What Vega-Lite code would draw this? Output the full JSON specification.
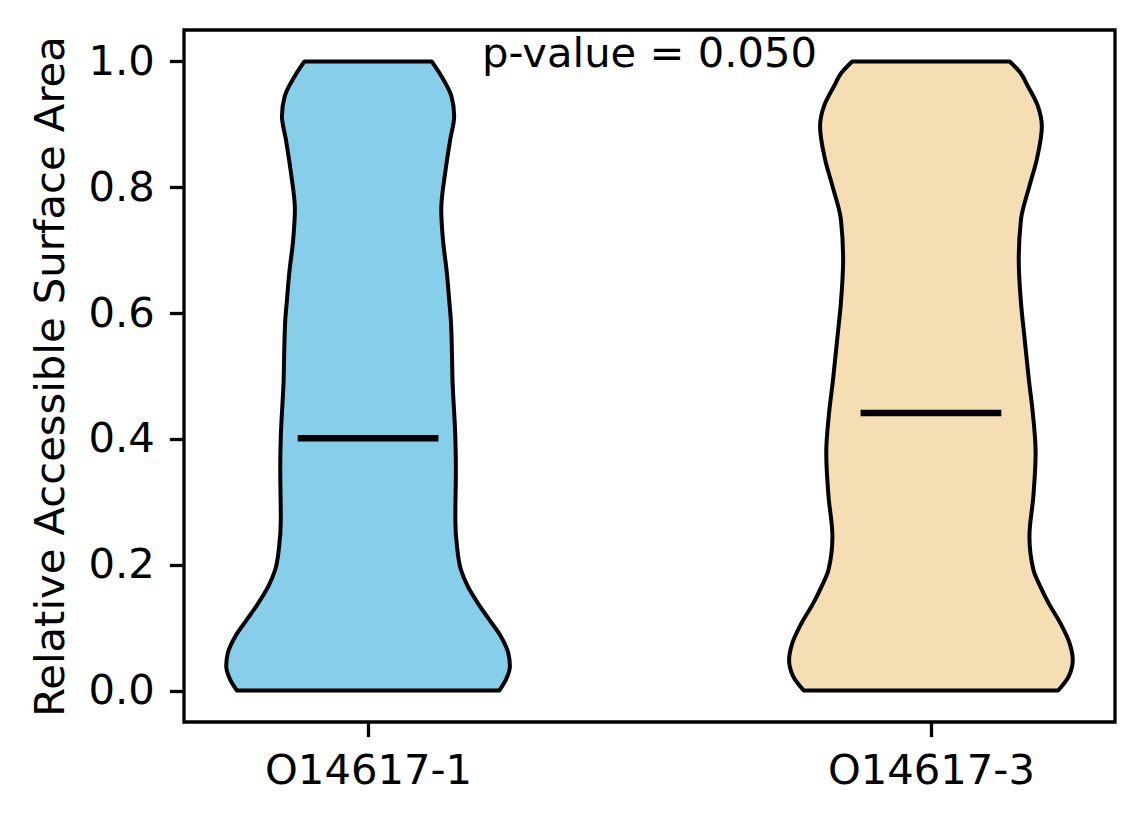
{
  "$schema": "https://vega.github.io/schema/vega-lite/v6.json",
  "width": 931,
  "height": 692,
  "autosize": {"type": "none"},
  "padding": {"left": 184, "top": 30, "right": 29, "bottom": 102},
  "background": "white",
  "config": {
    "font": "DejaVu Sans",
    "view": {"stroke": "black", "strokeWidth": 3.3},
    "axis": {
      "grid": false,
      "domain": false,
      "tickColor": "black",
      "tickWidth": 3.3,
      "tickSize": 14.6,
      "labelColor": "black",
      "labelFontSize": 41.7,
      "labelLimit": 0,
      "labelFont": "DejaVu Sans",
      "titleFont": "DejaVu Sans",
      "titleFontSize": 41.7,
      "titleFontWeight": "normal",
      "titleColor": "black"
    }
  },
  "datasets": {
    "violins": [
      {"g": "O14617-1", "y": 1.0, "lo": 0.887, "hi": 1.113},
      {"g": "O14617-1", "y": 0.977, "lo": 0.870, "hi": 1.130},
      {"g": "O14617-1", "y": 0.945, "lo": 0.852, "hi": 1.148},
      {"g": "O14617-1", "y": 0.913, "lo": 0.847, "hi": 1.153},
      {"g": "O14617-1", "y": 0.876, "lo": 0.854, "hi": 1.146},
      {"g": "O14617-1", "y": 0.823, "lo": 0.863, "hi": 1.137},
      {"g": "O14617-1", "y": 0.765, "lo": 0.870, "hi": 1.130},
      {"g": "O14617-1", "y": 0.717, "lo": 0.867, "hi": 1.133},
      {"g": "O14617-1", "y": 0.664, "lo": 0.860, "hi": 1.140},
      {"g": "O14617-1", "y": 0.622, "lo": 0.856, "hi": 1.144},
      {"g": "O14617-1", "y": 0.590, "lo": 0.853, "hi": 1.147},
      {"g": "O14617-1", "y": 0.537, "lo": 0.851, "hi": 1.149},
      {"g": "O14617-1", "y": 0.494, "lo": 0.850, "hi": 1.150},
      {"g": "O14617-1", "y": 0.404, "lo": 0.845, "hi": 1.155},
      {"g": "O14617-1", "y": 0.351, "lo": 0.844, "hi": 1.156},
      {"g": "O14617-1", "y": 0.272, "lo": 0.845, "hi": 1.155},
      {"g": "O14617-1", "y": 0.229, "lo": 0.842, "hi": 1.158},
      {"g": "O14617-1", "y": 0.192, "lo": 0.835, "hi": 1.165},
      {"g": "O14617-1", "y": 0.166, "lo": 0.823, "hi": 1.177},
      {"g": "O14617-1", "y": 0.139, "lo": 0.805, "hi": 1.195},
      {"g": "O14617-1", "y": 0.113, "lo": 0.785, "hi": 1.215},
      {"g": "O14617-1", "y": 0.086, "lo": 0.764, "hi": 1.236},
      {"g": "O14617-1", "y": 0.060, "lo": 0.751, "hi": 1.249},
      {"g": "O14617-1", "y": 0.039, "lo": 0.748, "hi": 1.252},
      {"g": "O14617-1", "y": 0.0175, "lo": 0.755, "hi": 1.245},
      {"g": "O14617-1", "y": 0.0, "lo": 0.767, "hi": 1.233},
      {"g": "O14617-3", "y": 1.0, "lo": 1.860, "hi": 2.140},
      {"g": "O14617-3", "y": 0.982, "lo": 1.841, "hi": 2.159},
      {"g": "O14617-3", "y": 0.961, "lo": 1.828, "hi": 2.172},
      {"g": "O14617-3", "y": 0.929, "lo": 1.810, "hi": 2.190},
      {"g": "O14617-3", "y": 0.897, "lo": 1.803, "hi": 2.197},
      {"g": "O14617-3", "y": 0.844, "lo": 1.812, "hi": 2.188},
      {"g": "O14617-3", "y": 0.802, "lo": 1.825, "hi": 2.175},
      {"g": "O14617-3", "y": 0.749, "lo": 1.840, "hi": 2.160},
      {"g": "O14617-3", "y": 0.685, "lo": 1.844, "hi": 2.156},
      {"g": "O14617-3", "y": 0.616, "lo": 1.840, "hi": 2.160},
      {"g": "O14617-3", "y": 0.563, "lo": 1.834, "hi": 2.166},
      {"g": "O14617-3", "y": 0.494, "lo": 1.826, "hi": 2.174},
      {"g": "O14617-3", "y": 0.441, "lo": 1.819, "hi": 2.181},
      {"g": "O14617-3", "y": 0.378, "lo": 1.814, "hi": 2.186},
      {"g": "O14617-3", "y": 0.309, "lo": 1.818, "hi": 2.182},
      {"g": "O14617-3", "y": 0.245, "lo": 1.825, "hi": 2.175},
      {"g": "O14617-3", "y": 0.192, "lo": 1.818, "hi": 2.182},
      {"g": "O14617-3", "y": 0.166, "lo": 1.806, "hi": 2.194},
      {"g": "O14617-3", "y": 0.139, "lo": 1.791, "hi": 2.209},
      {"g": "O14617-3", "y": 0.107, "lo": 1.770, "hi": 2.230},
      {"g": "O14617-3", "y": 0.076, "lo": 1.754, "hi": 2.246},
      {"g": "O14617-3", "y": 0.049, "lo": 1.748, "hi": 2.252},
      {"g": "O14617-3", "y": 0.023, "lo": 1.755, "hi": 2.245},
      {"g": "O14617-3", "y": 0.0, "lo": 1.774, "hi": 2.226}
    ],
    "medians": [
      {"g": "O14617-1", "median": 0.401, "lo": 0.875, "hi": 1.125},
      {"g": "O14617-3", "median": 0.441, "lo": 1.875, "hi": 2.125}
    ],
    "notes": [
      {"x": 1.5, "y": 0.991, "label": "p-value = 0.050"}
    ]
  },
  "layer": [
    {
      "data": {"name": "violins"},
      "mark": {
        "type": "area",
        "orient": "horizontal",
        "interpolate": "monotone",
        "stroke": "black",
        "strokeWidth": 4,
        "strokeJoin": "round",
        "opacity": 1
      },
      "encoding": {
        "y": {
          "field": "y",
          "type": "quantitative",
          "scale": {"domain": [-0.05, 1.05], "nice": false, "zero": false},
          "axis": {
            "values": [0, 0.2, 0.4, 0.6, 0.8, 1.0],
            "format": ".1f",
            "labelPadding": 15,
            "title": "Relative Accessible Surface Area",
            "titleX": -121,
            "titleY": 346,
            "titleAngle": 270,
            "titleAlign": "center",
            "titleBaseline": "alphabetic"
          }
        },
        "x": {
          "field": "lo",
          "type": "quantitative",
          "scale": {"domain": [0.673, 2.327], "nice": false, "zero": false},
          "axis": {
            "values": [1, 2],
            "labelExpr": "datum.value == 1 ? 'O14617-1' : 'O14617-3'",
            "labelPadding": 14,
            "title": null
          }
        },
        "x2": {"field": "hi"},
        "detail": {"field": "g"},
        "color": {
          "field": "g",
          "type": "nominal",
          "scale": {"domain": ["O14617-1", "O14617-3"], "range": ["#87CEEB", "#F5DEB3"]},
          "legend": null
        }
      }
    },
    {
      "data": {"name": "medians"},
      "mark": {"type": "rule", "color": "black", "strokeWidth": 6.5, "strokeCap": "butt"},
      "encoding": {
        "y": {"field": "median", "type": "quantitative"},
        "x": {"field": "lo", "type": "quantitative"},
        "x2": {"field": "hi"}
      }
    },
    {
      "data": {"name": "notes"},
      "mark": {"type": "text", "align": "center", "baseline": "alphabetic", "fontSize": 41.7, "color": "black"},
      "encoding": {
        "x": {"field": "x", "type": "quantitative"},
        "y": {"field": "y", "type": "quantitative"},
        "text": {"field": "label"}
      }
    }
  ]
}
